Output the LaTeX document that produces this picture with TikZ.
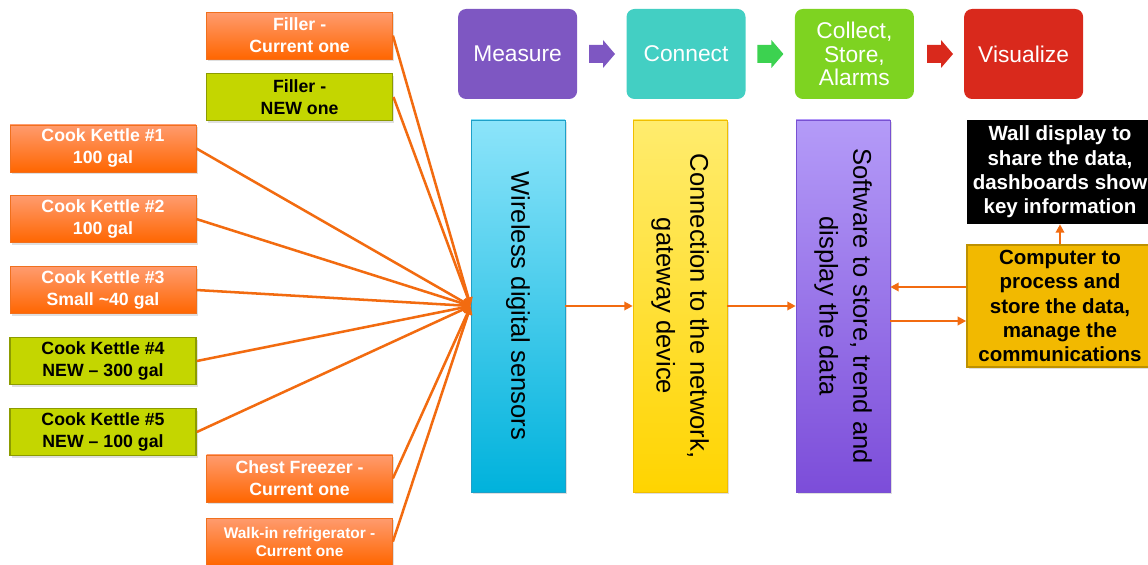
\documentclass[tikz,border=0pt]{standalone}
\usepackage{fontspec}
\setmainfont{Liberation Sans}
\usetikzlibrary{arrows.meta,shadows}

\definecolor{wireclr}{RGB}{242,107,16}
\definecolor{curtop}{RGB}{255,155,110}
\definecolor{curbot}{RGB}{255,102,0}
\definecolor{curedge}{RGB}{240,112,30}
\definecolor{newfill}{RGB}{196,214,0}
\definecolor{newedge}{RGB}{140,155,0}
\definecolor{mpurple}{RGB}{126,87,194}
\definecolor{mteal}{RGB}{67,207,195}
\definecolor{mgreen}{RGB}{126,211,33}
\definecolor{marrow}{RGB}{60,210,80}
\definecolor{mred}{RGB}{217,41,28}
\definecolor{senstop}{RGB}{140,228,250}
\definecolor{sensbot}{RGB}{0,178,220}
\definecolor{sensedge}{RGB}{30,160,200}
\definecolor{conntop}{RGB}{255,236,110}
\definecolor{connbot}{RGB}{255,212,0}
\definecolor{connedge}{RGB}{240,190,0}
\definecolor{softtop}{RGB}{180,155,248}
\definecolor{softbot}{RGB}{124,77,217}
\definecolor{softedge}{RGB}{120,80,210}
\definecolor{compfill}{RGB}{242,185,0}
\definecolor{compedge}{RGB}{190,145,0}

\begin{document}
\begin{tikzpicture}[>={Triangle[length=6pt,width=6pt]}]
\useasboundingbox (0,0) rectangle (28.7,-14.125);
\clip (0,0) rectangle (28.7,-14.125);
\tikzstyle{shad}=[drop shadow={shadow xshift=1.2pt,shadow yshift=-1.5pt,opacity=.25}]
\tikzstyle{src}=[shad,minimum width=4.65cm,minimum height=1.175cm,inner sep=1pt,align=center,font=\fontsize{12.6}{15.6}\selectfont\bfseries]
\tikzstyle{curbox}=[src,draw=curedge,top color=curtop,bottom color=curbot,text=white]
\tikzstyle{newbox}=[src,draw=newedge,line width=1.2pt,fill=newfill,text=black]
\tikzstyle{col}=[shad,minimum width=2.35cm,minimum height=9.3cm]
\tikzstyle{coltext}=[rotate=-90,align=center,font=\fontsize{18.2}{24}\selectfont]
\tikzstyle{stage}=[rounded corners=0.2cm,minimum width=2.975cm,minimum height=2.25cm,align=center,text=white,font=\fontsize{16.2}{16.7}\selectfont]
\tikzstyle{wire}=[wireclr,line width=1.8pt]
% equipment to be measured
\node[curbox] (fillcur) at (7.49,-0.89) {Filler -\\Current one};
\node[newbox] (fillnew) at (7.49,-2.425) {Filler -\\NEW one};
\node[curbox] (k1) at (2.575,-3.71) {Cook Kettle \#1\\100 gal};
\node[curbox] (k2) at (2.575,-5.475) {Cook Kettle \#2\\100 gal};
\node[curbox] (k3) at (2.575,-7.25) {Cook Kettle \#3\\Small \textasciitilde40 gal};
\node[newbox] (k4) at (2.575,-9.025) {Cook Kettle \#4\\NEW -- 300 gal};
\node[newbox] (k5) at (2.575,-10.8) {Cook Kettle \#5\\NEW -- 100 gal};
\node[curbox] (frz) at (7.49,-11.96) {Chest Freezer -\\Current one};
\node[curbox,font=\fontsize{11}{12.8}\selectfont\bfseries] (walkin) at (7.49,-13.54) {Walk-in refrigerator -\\Current one};
% the chain of columns
\node[col,draw=sensedge,top color=senstop,bottom color=sensbot] (sens) at (12.95,-7.65) {};
\node[coltext] (senst) at (sens) {Wireless digital sensors};
\node[col,draw=connedge,top color=conntop,bottom color=connbot] (conn) at (17.0,-7.65) {};
\node[coltext] (connt) at (conn) {Connection to the network,\\gateway device};
\node[col,draw=softedge,top color=softtop,bottom color=softbot] (soft) at (21.075,-7.65) {};
\node[coltext] (softt) at (soft) {Software to store, trend and\\display the data};
\node[fill=black,text=white,minimum width=4.65cm,minimum height=2.6cm,align=center,font=\fontsize{14.6}{17.4}\selectfont\bfseries] (wall) at (26.5,-4.3) {Wall display to\\share the data,\\dashboards show\\key information};
\node[draw=compedge,line width=1.2pt,fill=compfill,minimum width=4.65cm,minimum height=3.05cm,align=center,font=\fontsize{14.6}{17.4}\selectfont\bfseries,shad] (comp) at (26.5,-7.65) {Computer to\\process and\\store the data,\\manage the\\communications};
% stages on top
\node[stage,fill=mpurple] (meas) at (12.94,-1.35) {Measure};
\node[stage,fill=mteal] (conx) at (17.15,-1.35) {Connect};
\node[stage,fill=mgreen] (coll) at (21.36,-1.35) {Collect,\\Store,\\Alarms};
\node[stage,fill=mred] (vis) at (25.59,-1.35) {Visualize};
\foreach \x/\c in {15.05/mpurple,19.26/marrow,23.5/mred}
  \fill[\c,shift={(\x,-1.35)}] (-0.325,0.225) -- (0.025,0.225) -- (0.025,0.35) -- (0.325,0) -- (0.025,-0.35) -- (0.025,-0.225) -- (-0.325,-0.225) -- cycle;
% connectors
\coordinate (hub) at (sens.west);
\foreach \n in {fillcur,fillnew,k1,k2,k3,k4,k5,frz,walkin}
  \draw[wire,->] (\n.east) -- (hub);
\draw[wire,->] (sens.east) -- (conn.west);
\draw[wire,->] (conn.east) -- (soft.west);
\draw[wire,->] ([yshift=0.475cm]comp.west) -- ([yshift=0.475cm]soft.east);
\draw[wire,->] ([yshift=-0.375cm]soft.east) -- ([yshift=-0.375cm]comp.west);
\draw[wire,->] (comp.north) -- (wall.south);
\end{tikzpicture}
\end{document}
